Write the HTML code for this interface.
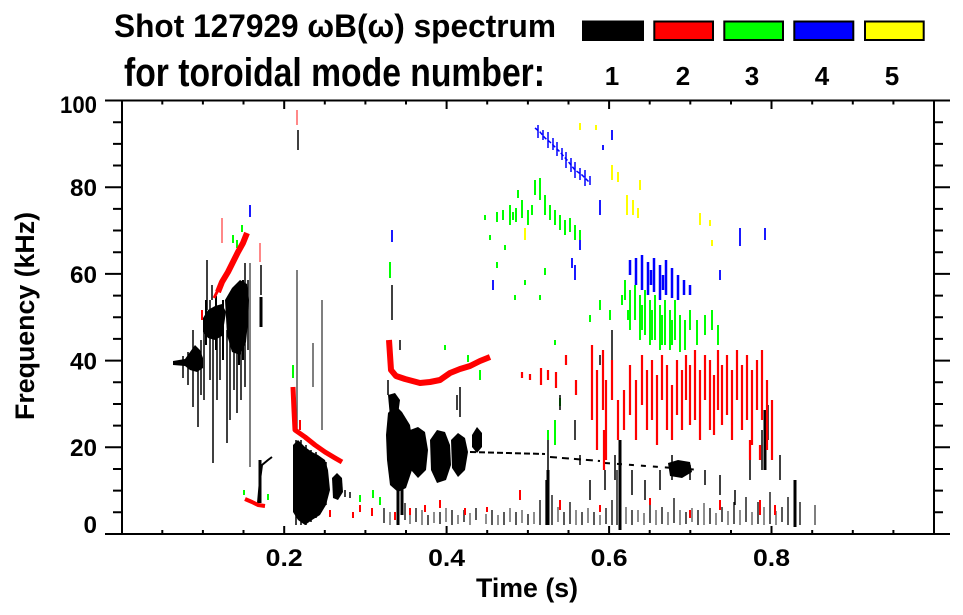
<!DOCTYPE html>
<html><head><meta charset="utf-8"><style>
html,body{margin:0;padding:0;background:#fff;}
svg{display:block;}
text{font-family:"Liberation Sans",Arial,sans-serif;font-weight:bold;fill:#000;}
</style></head><body>
<svg width="963" height="615" viewBox="0 0 963 615" xmlns="http://www.w3.org/2000/svg">
<rect width="963" height="615" fill="#fff"/>

<!-- Title -->
<text x="114" y="37" font-size="32" textLength="442" lengthAdjust="spacingAndGlyphs">Shot 127929 ωB(ω) spectrum</text>
<text x="124" y="86" font-size="40" textLength="421" lengthAdjust="spacingAndGlyphs">for toroidal mode number:</text>

<!-- Legend boxes -->
<rect x="582" y="20.5" width="62" height="20.5" fill="#000"/>
<rect x="654.3" y="21.5" width="58.7" height="18.5" fill="#f00" stroke="#000" stroke-width="2"/>
<rect x="724.3" y="21.5" width="58.7" height="18.5" fill="#0f0" stroke="#000" stroke-width="2"/>
<rect x="794.3" y="21.5" width="59" height="18.5" fill="#00f" stroke="#000" stroke-width="2"/>
<rect x="865" y="21.5" width="58.7" height="18.5" fill="#ff0" stroke="#000" stroke-width="2"/>
<g font-size="26" text-anchor="middle">
<text x="612" y="85">1</text>
<text x="683" y="85">2</text>
<text x="752" y="85">3</text>
<text x="822" y="85">4</text>
<text x="892" y="85">5</text>
</g>

<!-- ===== DATA ===== -->
<!-- green -->
<g stroke="#0f0" stroke-width="2" fill="none">
<path d="M625 280V300M630 290V330M635 285V320M640 295V340M645 290V335M650 300V345M655 295V340M660 305V350M665 300V345M670 310V350M675 300V340M680 315V352M685 320V350M690 310V330M697 320V345M705 315V335M712 310V330M718 325V345M628 310V320M622 295V305M642 305V330M652 310V340M662 315V345M672 320V345"/>
<path d="M497 212V222M503 210V220M510 205V225M516 208V222M522 200V218M528 210V225M535 180V195M540 185V200M545 195V215M550 205V220M555 210V225M560 215V230M565 220V235M570 218V232M575 225V240M580 230V240M540 178V188M518 190V198M505 245V250M485 215V220M490 235V240M513 212V220M532 205V215"/>
<path d="M515 295V300M540 295V300M525 280V285M555 420V445M548 430V440M560 398V406M590 315V322M600 300V310M610 310V320M555 340V345M480 370V380M468 355V362M445 345V350M293 365V378M390 262V278M360 495V502M373 490V498M380 497V505M268 494V500M244 490V495M233 235V243M242 225V232M237 240V248M300 470V480M497 262V268M545 268V275"/>
</g>
<!-- blue -->
<g stroke="#00f" fill="none">
<polyline points="535,128 540,132 545,138 550,142 555,147 560,152 567,160 575,170 582,175 590,183" stroke-width="1.5" stroke-dasharray="4,2"/>
<path stroke-width="1.5" d="M538 125V138M543 130V140M548 132V148M553 138V150M557 142V156M562 148V160M566 152V168M571 158V172M575 162V178M580 168V180M585 170V186M590 176V185"/>
<path stroke-width="2.5" d="M630 260V275M636 258V285M642 255V290M648 262V295M654 258V292M660 265V300M666 260V295M672 268V298M678 275V300M684 280V295M690 285V295M651 270V285M663 275V290"/>
<path stroke-width="1.8" d="M575 265V280M600 200V215M603 145V150M612 130V140M740 228V246M765 228V240M250 205V217M392 230V242M493 280V290M580 240V250M720 270V280M572 258V268"/>
</g>
<!-- yellow -->
<g stroke="#ff0" fill="none" stroke-width="2">
<path d="M580 123V130M596 125V130M612 165V180M618 172V182M627 195V215M633 200V215M638 208V218M525 228V240M700 213V225M710 220V226M712 240V246M640 180V190"/>
</g>

<!-- black blobs -->
<g fill="#000">
<path d="M173,361 L185,359 L190,352 L195,345 L200,350 L203,358 L203,368 L197,372 L190,370 L185,366 L173,365 Z"/>
<path d="M203,318 L208,310 L215,306 L222,304 L226,312 L224,325 L222,336 L215,340 L208,338 L203,332 Z"/>
<path d="M225,300 L232,288 L240,280 L247,284 L249,300 L248,322 L246,342 L240,355 L232,352 L227,335 Z"/>
<path d="M293,445 L298,440 L305,447 L312,452 L318,455 L325,460 L328,470 L330,490 L326,505 L320,515 L312,520 L305,525 L298,520 L293,512 Z"/>
<path d="M332,478 L337,473 L342,478 L343,492 L338,500 L333,498 Z"/>
<path d="M388,413 L395,405 L402,412 L410,425 L413,445 L412,470 L406,488 L398,492 L390,485 L387,460 L386,435 Z"/>
<path d="M410,430 L418,427 L425,432 L428,450 L426,470 L418,478 L411,470 Z"/>
<path d="M430,440 L437,430 L445,432 L450,445 L451,465 L446,480 L437,483 L431,470 Z"/>
<path d="M451,440 L458,433 L465,438 L468,452 L465,470 L458,477 L452,468 Z"/>
<path d="M472,435 L477,427 L482,433 L482,447 L477,453 L472,447 Z"/>
<path d="M388,395 L395,393 L400,400 L398,415 L390,417 Z"/>
<path d="M668,463 L678,460 L690,462 L692,472 L682,478 L670,476 Z"/>
</g>
<g stroke="#000" fill="none">
<path stroke-width="1.5" d="M193 330V407M198 365V427M188 352V385M183 356V378M201 340V395M207 260V310M210 300V380M213 330V463M217 320V400M220 330V380M227 330V443M230 340V420M234 320V390M237 300V413M241 290V400M245 263V387M248 280V350M204 330V400M212 285V300M261 265V295M392 285V320M400 340V350M298 130V150M388 380V395M460 387V417M457 395V410M296 440V525M301 440V525M306 445V525M311 450V522M316 452V518M321 458V512M326 462V505M345 490V497M350 492V498"/>
<path stroke-width="2" d="M206 300V345M216 296V350M223 300V360M239 290V365M243 280V360"/>
<path stroke-width="1.5" stroke="#555" d="M250 263V467M297 270V430M322 300V430M313 343V387M815 505V525"/>
<path stroke-width="3" d="M261 297V327M260 460V503M398 490V525M402 488V515M548 470V525M620 440V530M795 480V527M765 410V470"/>
<polyline stroke-width="2" points="258,503 260,480 262,465 268,460 272,457"/>
<line x1="470" y1="452" x2="545" y2="454" stroke-width="2" stroke-dasharray="6,3"/>
<line x1="550" y1="457" x2="600" y2="461" stroke-width="2" stroke-dasharray="7,5"/>
<line x1="605" y1="463" x2="700" y2="470" stroke-width="2" stroke-dasharray="5,7"/>
<path stroke-width="1.3" d="M384 508V523M405 503V520M416 508V522M428 515V525M440 512V524M452 510V525M464 510V522M476 508V520M492 510V525M504 512V525M516 512V525M528 514V525M540 500V525M546 480V525M552 495V525M564 512V525M570 502V524M582 512V525M594 512V525M606 508V524M612 500V525M617 470V525M632 510V525M650 502V523M662 507V524M674 498V523M686 512V524M698 510V525M710 508V524M722 507V522M734 502V524M746 497V522M758 502V524M770 492V524M782 507V522M788 497V525M800 502V525"/>
<path stroke-width="1.2" stroke="#444" d="M390 512V525M410 514V524M422 510V525M434 512V523M446 508V522M458 515V524M470 513V525M486 514V524M498 515V525M510 508V522M522 510V523M534 512V524M558 507V522M576 510V525M588 508V523M600 515V525M626 507V524M638 510V522M644 513V525M656 510V525M668 512V525M680 510V525M692 508V522M704 503V525M716 513V525M728 511V525M740 510V525M752 512V525M764 507V525M776 511V525"/>
<path stroke-width="1.5" d="M548 440V470M560 395V410M575 420V440M590 480V500M605 470V490M615 455V480M632 470V495M645 480V500M660 470V490M672 455V480M690 465V480M705 470V485M720 475V495M735 490V505M750 460V480M762 430V470M768 405V440M780 455V480M612 330V360M600 355V365M580 455V465"/>
</g>

<!-- red -->
<g stroke="#f00" fill="none" stroke-linejoin="round">
<polyline stroke-width="6" points="218,292 222,282 228,272 233,262 238,252 243,243 247,233"/>
<polyline stroke-width="3" points="214,298 218,290 224,280"/>
<polyline stroke-width="6" points="389,340 390,355 391,370 396,376 405,379 420,383 430,382 440,380 450,373 460,369 470,366 480,361 490,357"/>
<polyline stroke-width="5" points="293,387 294,410 295,430 305,437 315,445 325,452 335,458 342,462"/>
<polyline stroke-width="4" points="245,499 252,502 258,505 265,506"/>
<path stroke-width="2" d="M202 310V320M300 420V430"/>
<path stroke="#f88" stroke-width="2" d="M222 218V243M260 243V262M297 110V125"/>
<path stroke-width="2.2" d="M522 372V378M530 374V380M541 368V385M548 370V380M556 372V388M566 355V365M576 380V395M592 345V420M597 370V450M603 350V410M606 380V460M612 360V400M618 400V440M624 390V430M630 365V415M636 380V440M642 355V405M647 370V430M652 360V420M657 375V445M662 355V400M667 365V430M672 385V440M677 360V415M682 370V430M686 355V400M690 365V425M695 350V420M700 370V440M705 355V400M710 360V430M714 375V435M718 350V410M722 365V425M727 355V415M732 370V440M737 350V400M742 365V430M747 355V420M752 370V445M757 360V410M762 350V420M767 380V450M772 400V460M604 430V470M750 440V460M760 445V460"/>
<path stroke-width="2" d="M330 510V517M360 505V512M372 508V516M395 512V520M425 505V512M440 500V508M465 508V515M487 507V512M520 490V500M560 500V510M600 505V512M650 498V505M690 510V518M720 500V510M760 500V515M775 505V515M353 512V518M410 508V515"/>
</g>

<!-- ===== AXES ===== -->
<g stroke="#000" stroke-width="2" fill="none">
<line x1="105" y1="100.5" x2="950" y2="100.5"/>
<line x1="105" y1="534" x2="950" y2="534"/>
<line x1="122" y1="100.5" x2="122" y2="534"/>
<line x1="934" y1="100.5" x2="934" y2="534"/>
<path d="M105 447.3H122M105 360.6H122M105 273.9H122M105 187.2H122M934 447.3H950M934 360.6H950M934 273.9H950M934 187.2H950"/>
<path d="M113 512.3H122M113 490.65H122M113 469H122M113 425.6H122M113 404H122M113 382.3H122M113 338.9H122M113 317.25H122M113 295.6H122M113 252.2H122M113 230.55H122M113 208.9H122M113 165.5H122M113 143.85H122M113 122.2H122"/>
<path d="M934 512.3H943M934 490.65H943M934 469H943M934 425.6H943M934 404H943M934 382.3H943M934 338.9H943M934 317.25H943M934 295.6H943M934 252.2H943M934 230.55H943M934 208.9H943M934 165.5H943M934 143.85H943M934 122.2H943"/>
<path d="M284.2 526V534M446.6 526V534M609.1 526V534M771.5 526V534M284.2 100.5V109M446.6 100.5V109M609.1 100.5V109M771.5 100.5V109"/>
<path d="M162.3 530V534M202.9 530V534M243.5 530V534M324.8 530V534M365.4 530V534M406 530V534M487.2 530V534M527.9 530V534M568.5 530V534M649.7 530V534M690.3 530V534M731 530V534M812.2 530V534M852.8 530V534M893.4 530V534"/>
<path d="M162.3 100.5V104.5M202.9 100.5V104.5M243.5 100.5V104.5M324.8 100.5V104.5M365.4 100.5V104.5M406 100.5V104.5M487.2 100.5V104.5M527.9 100.5V104.5M568.5 100.5V104.5M649.7 100.5V104.5M690.3 100.5V104.5M731 100.5V104.5M812.2 100.5V104.5M852.8 100.5V104.5M893.4 100.5V104.5"/>
</g>

<!-- y tick labels -->
<g font-size="24" text-anchor="end">
<text x="97" y="113" textLength="37" lengthAdjust="spacingAndGlyphs">100</text>
<text x="97" y="196" textLength="27" lengthAdjust="spacingAndGlyphs">80</text>
<text x="97" y="283" textLength="27" lengthAdjust="spacingAndGlyphs">60</text>
<text x="97" y="369.5" textLength="27" lengthAdjust="spacingAndGlyphs">40</text>
<text x="97" y="456" textLength="27" lengthAdjust="spacingAndGlyphs">20</text>
<text x="97" y="533" textLength="13.5" lengthAdjust="spacingAndGlyphs">0</text>
</g>
<!-- x tick labels -->
<g font-size="24" text-anchor="middle">
<text x="284.2" y="566" textLength="37" lengthAdjust="spacingAndGlyphs">0.2</text>
<text x="446.6" y="566" textLength="37" lengthAdjust="spacingAndGlyphs">0.4</text>
<text x="609.1" y="566" textLength="37" lengthAdjust="spacingAndGlyphs">0.6</text>
<text x="771.5" y="566" textLength="37" lengthAdjust="spacingAndGlyphs">0.8</text>
</g>

<!-- axis titles -->
<text x="527" y="597" font-size="27" text-anchor="middle" textLength="102" lengthAdjust="spacingAndGlyphs">Time (s)</text>
<text transform="translate(34,316) rotate(-90)" font-size="27" text-anchor="middle" textLength="208" lengthAdjust="spacingAndGlyphs">Frequency (kHz)</text>
</svg>
</body></html>
